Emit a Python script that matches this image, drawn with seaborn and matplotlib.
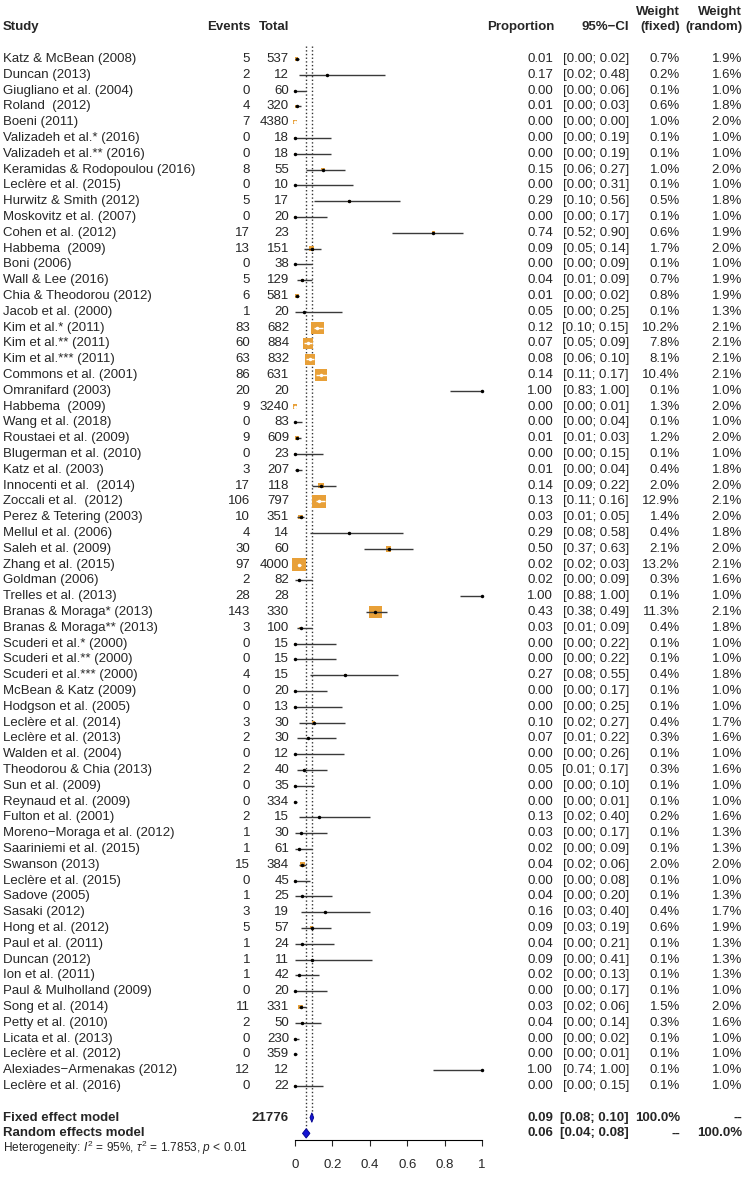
import numpy as np
import pandas as pd
import matplotlib
matplotlib.use("Agg")
import matplotlib.pyplot as plt
import matplotlib.transforms as mtransforms
import seaborn as sns

studies = [
    "Katz & McBean (2008)", "Duncan (2013)", "Giugliano et al. (2004)", "Roland  (2012)",
    "Boeni (2011)", "Valizadeh et al.* (2016)", "Valizadeh et al.** (2016)",
    "Keramidas & Rodopoulou (2016)", "Leclère et al. (2015)", "Hurwitz & Smith (2012)",
    "Moskovitz et al. (2007)", "Cohen et al. (2012)", "Habbema  (2009)", "Boni (2006)",
    "Wall & Lee (2016)", "Chia & Theodorou (2012)", "Jacob et al. (2000)", "Kim et al.* (2011)",
    "Kim et al.** (2011)", "Kim et al.*** (2011)", "Commons et al. (2001)", "Omranifard (2003)",
    "Habbema  (2009)", "Wang et al. (2018)", "Roustaei et al. (2009)", "Blugerman et al. (2010)",
    "Katz et al. (2003)", "Innocenti et al.  (2014)", "Zoccali et al.  (2012)",
    "Perez & Tetering (2003)", "Mellul et al. (2006)", "Saleh et al. (2009)", "Zhang et al. (2015)",
    "Goldman (2006)", "Trelles et al. (2013)", "Branas & Moraga* (2013)",
    "Branas & Moraga** (2013)", "Scuderi et al.* (2000)", "Scuderi et al.** (2000)",
    "Scuderi et al.*** (2000)", "McBean & Katz (2009)", "Hodgson et al. (2005)",
    "Leclère et al. (2014)", "Leclère et al. (2013)", "Walden et al. (2004)",
    "Theodorou & Chia (2013)", "Sun et al. (2009)", "Reynaud et al. (2009)", "Fulton et al. (2001)",
    "Moreno−Moraga et al. (2012)", "Saariniemi et al. (2015)", "Swanson (2013)",
    "Leclère et al. (2015)", "Sadove (2005)", "Sasaki (2012)", "Hong et al. (2012)",
    "Paul et al. (2011)", "Duncan (2012)", "Ion et al. (2011)", "Paul & Mulholland (2009)",
    "Song et al. (2014)", "Petty et al. (2010)", "Licata et al. (2013)", "Leclère et al. (2012)",
    "Alexiades−Armenakas (2012)", "Leclère et al. (2016)",
]
events = [5, 2, 0, 4, 7, 0, 0, 8, 0, 5, 0, 17, 13, 0, 5, 6, 1, 83, 60, 63, 86, 20, 9, 0, 9, 0,
          3, 17, 106, 10, 4, 30, 97, 2, 28, 143, 3, 0, 0, 4, 0, 0, 3, 2, 0, 2, 0, 0, 2, 1, 1, 15,
          0, 1, 3, 5, 1, 1, 1, 0, 11, 2, 0, 0, 12, 0]
totals = [537, 12, 60, 320, 4380, 18, 18, 55, 10, 17, 20, 23, 151, 38, 129, 581, 20, 682, 884,
          832, 631, 20, 3240, 83, 609, 23, 207, 118, 797, 351, 14, 60, 4000, 82, 28, 330, 100,
          15, 15, 15, 20, 13, 30, 30, 12, 40, 35, 334, 15, 30, 61, 384, 45, 25, 19, 57, 24, 11,
          42, 20, 331, 50, 230, 359, 12, 22]
prop = [0.01, 0.17, 0.00, 0.01, 0.00, 0.00, 0.00, 0.15, 0.00, 0.29, 0.00, 0.74, 0.09, 0.00,
        0.04, 0.01, 0.05, 0.12, 0.07, 0.08, 0.14, 1.00, 0.00, 0.00, 0.01, 0.00, 0.01, 0.14,
        0.13, 0.03, 0.29, 0.50, 0.02, 0.02, 1.00, 0.43, 0.03, 0.00, 0.00, 0.27, 0.00, 0.00,
        0.10, 0.07, 0.00, 0.05, 0.00, 0.00, 0.13, 0.03, 0.02, 0.04, 0.00, 0.04, 0.16, 0.09,
        0.04, 0.09, 0.02, 0.00, 0.03, 0.04, 0.00, 0.00, 1.00, 0.00]
ci_low = [0.00, 0.02, 0.00, 0.00, 0.00, 0.00, 0.00, 0.06, 0.00, 0.10, 0.00, 0.52, 0.05, 0.00,
          0.01, 0.00, 0.00, 0.10, 0.05, 0.06, 0.11, 0.83, 0.00, 0.00, 0.01, 0.00, 0.00, 0.09,
          0.11, 0.01, 0.08, 0.37, 0.02, 0.00, 0.88, 0.38, 0.01, 0.00, 0.00, 0.08, 0.00, 0.00,
          0.02, 0.01, 0.00, 0.01, 0.00, 0.00, 0.02, 0.00, 0.00, 0.02, 0.00, 0.00, 0.03, 0.03,
          0.00, 0.00, 0.00, 0.00, 0.02, 0.00, 0.00, 0.00, 0.74, 0.00]
ci_high = [0.02, 0.48, 0.06, 0.03, 0.00, 0.19, 0.19, 0.27, 0.31, 0.56, 0.17, 0.90, 0.14, 0.09,
           0.09, 0.02, 0.25, 0.15, 0.09, 0.10, 0.17, 1.00, 0.01, 0.04, 0.03, 0.15, 0.04, 0.22,
           0.16, 0.05, 0.58, 0.63, 0.03, 0.09, 1.00, 0.49, 0.09, 0.22, 0.22, 0.55, 0.17, 0.25,
           0.27, 0.22, 0.26, 0.17, 0.10, 0.01, 0.40, 0.17, 0.09, 0.06, 0.08, 0.20, 0.40, 0.19,
           0.21, 0.41, 0.13, 0.17, 0.06, 0.14, 0.02, 0.01, 1.00, 0.15]
w_fixed = [0.7, 0.2, 0.1, 0.6, 1.0, 0.1, 0.1, 1.0, 0.1, 0.5, 0.1, 0.6, 1.7, 0.1, 0.7, 0.8, 0.1,
           10.2, 7.8, 8.1, 10.4, 0.1, 1.3, 0.1, 1.2, 0.1, 0.4, 2.0, 12.9, 1.4, 0.4, 2.1, 13.2,
           0.3, 0.1, 11.3, 0.4, 0.1, 0.1, 0.4, 0.1, 0.1, 0.4, 0.3, 0.1, 0.3, 0.1, 0.1, 0.2, 0.1,
           0.1, 2.0, 0.1, 0.1, 0.4, 0.6, 0.1, 0.1, 0.1, 0.1, 1.5, 0.3, 0.1, 0.1, 0.1, 0.1]
w_random = [1.9, 1.6, 1.0, 1.8, 2.0, 1.0, 1.0, 2.0, 1.0, 1.8, 1.0, 1.9, 2.0, 1.0, 1.9, 1.9, 1.3,
            2.1, 2.1, 2.1, 2.1, 1.0, 2.0, 1.0, 2.0, 1.0, 1.8, 2.0, 2.1, 2.0, 1.8, 2.0, 2.1, 1.6,
            1.0, 2.1, 1.8, 1.0, 1.0, 1.8, 1.0, 1.0, 1.7, 1.6, 1.0, 1.6, 1.0, 1.0, 1.6, 1.3, 1.3,
            2.0, 1.0, 1.3, 1.7, 1.9, 1.3, 1.3, 1.3, 1.0, 2.0, 1.6, 1.0, 1.0, 1.0, 1.0]

fixed_est, fixed_lo, fixed_hi = 0.09, 0.08, 0.10
random_est, random_lo, random_hi = 0.06, 0.04, 0.08
total_n = 21776
xticks = [0, 0.2, 0.4, 0.6, 0.8, 1]
xtick_labels = ["0", "0.2", "0.4", "0.6", "0.8", "1"]
heterogeneity = r"Heterogeneity: $I^2$ = 95%, $\tau^2$ = 1.7853, $p$ < 0.01"

sns.set_style("white")
plt.rcParams['font.family'] = ['Liberation Sans', 'DejaVu Sans']
plt.rcParams['mathtext.fontset'] = 'custom'
plt.rcParams['mathtext.rm'] = 'Liberation Sans'
plt.rcParams['mathtext.it'] = 'Liberation Sans:italic'

df = pd.DataFrame({'study': studies, 'events': events, 'total': totals, 'prop': prop,
                   'lo': ci_low, 'hi': ci_high, 'wf': w_fixed, 'wr': w_random})
df['row'] = np.arange(1, len(df) + 1)
row_fixed = len(df) + 2
row_random = len(df) + 3

W, H = 747, 1177
x0, x1 = 295, 482
naranja = '#E8A038'
linea = '#3a3a3a'

fig = plt.figure(figsize=(W / 100, H / 100), dpi=100)
ax = fig.add_axes([x0 / W, (H - 1140) / H, (x1 - x0) / W, 1140 / H])

# cuadrados (area ~ peso fijo)
df['sq_px'] = 3.8 * np.sqrt(df['wf'])
sns.scatterplot(data=df, x='prop', y='row', marker='s', s=(df['sq_px'] * 0.72) ** 2,
                color=naranja, linewidth=0, legend=False, ax=ax, zorder=2, clip_on=False)

# IC en blanco si queda dentro del cuadrado (centrado en la estimacion)
half = df['sq_px'] / 2 / (x1 - x0)
dentro = (df['lo'] >= df['prop'] - half) & (df['hi'] <= df['prop'] + half)
for i, r in df.iterrows():
    c = 'white' if dentro[i] else linea
    ax.hlines(r['row'], r['lo'], r['hi'], color=c, lw=1, zorder=3, clip_on=False)
    ax.plot(r['prop'], r['row'], 'o', ms=2.5, mec='none',
            color='white' if dentro[i] else 'black', zorder=4, clip_on=False)

# lineas de efecto
ax.vlines(fixed_est, 0.2, row_fixed, colors='#333333', linestyles=':', lw=1, zorder=1)
ax.vlines(random_est, 0.2, row_random, colors='#333333', linestyles=':', lw=1, zorder=1)

# diamantes
for est, lo, hi, rw in [(fixed_est, fixed_lo, fixed_hi, row_fixed),
                        (random_est, random_lo, random_hi, row_random)]:
    h = 0.3
    ax.fill([lo, est, hi, est], [rw, rw - h, rw, rw + h], color='#1414D4',
            ec='#00008B', lw=0.6, zorder=5, clip_on=False)

ax.set_xlim(0, 1)
ax.set_ylim(69.42, -2.734)
ax.set_xticks(xticks)
ax.set_xticklabels(xtick_labels, fontsize=9.5)
ax.set_yticks([])
ax.set_xlabel('')
ax.set_ylabel('')
for s in ['left', 'top', 'right']:
    ax.spines[s].set_visible(False)
ax.spines['bottom'].set_bounds(0, 1)
ax.spines['bottom'].set_linewidth(0.8)
ax.spines['bottom'].set_color('black')
ax.tick_params(axis='x', direction='out', length=4.5, width=0.8, pad=9.5, bottom=True)
ax.patch.set_alpha(0)

tr = mtransforms.blended_transform_factory(fig.transFigure, ax.transData)


def texto(xp, y, s, ha='right', bold=False, size=9.5):
    ax.text(xp / W, y, s, transform=tr, ha=ha, va='center', fontsize=size,
            fontweight='bold' if bold else 'normal', clip_on=False)


# cabecera
texto(3, -1, 'Study', ha='left', bold=True)
texto(250, -1, 'Events', bold=True)
texto(289, -1, 'Total', bold=True)
texto(554, -1, 'Proportion', bold=True)
texto(629, -1, '95%−CI', bold=True)
texto(680, -2, 'Weight', bold=True)
texto(680, -1, '(fixed)', bold=True)
texto(742, -2, 'Weight', bold=True)
texto(742, -1, '(random)', bold=True)

for _, r in df.iterrows():
    y = r['row']
    texto(3, y, r['study'], ha='left')
    texto(250, y, f"{r['events']:d}")
    texto(289, y, f"{r['total']:d}")
    texto(553, y, f"{r['prop']:.2f}")
    texto(629, y, f"[{r['lo']:.2f}; {r['hi']:.2f}]")
    texto(680, y, f"{r['wf']:.1f}%")
    texto(742, y, f"{r['wr']:.1f}%")

texto(3, row_fixed, 'Fixed effect model', ha='left', bold=True)
texto(289, row_fixed, f"{total_n}", bold=True)
texto(553, row_fixed, f"{fixed_est:.2f}", bold=True)
texto(629, row_fixed, f"[{fixed_lo:.2f}; {fixed_hi:.2f}]", bold=True)
texto(680, row_fixed, '100.0%', bold=True)
texto(742, row_fixed, '--', bold=True)

texto(3, row_random, 'Random effects model', ha='left', bold=True)
texto(553, row_random, f"{random_est:.2f}", bold=True)
texto(629, row_random, f"[{random_lo:.2f}; {random_hi:.2f}]", bold=True)
texto(680, row_random, '--', bold=True)
texto(742, row_random, '100.0%', bold=True)

texto(3, row_random + 0.95, heterogeneity, ha='left', size=8.6)

fig.savefig('out.png', dpi=100)
